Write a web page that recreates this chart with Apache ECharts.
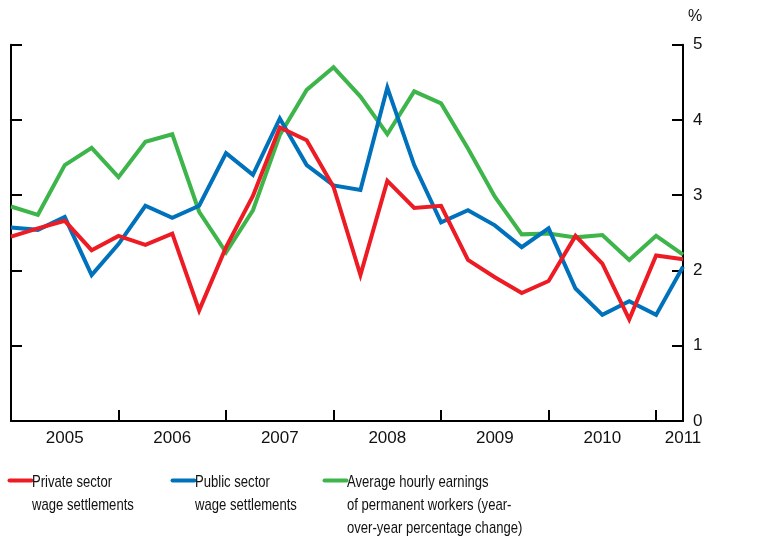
<!DOCTYPE html>
<html>
<head>
<meta charset="utf-8">
<script src="https://cdn.jsdelivr.net/npm/echarts@6/dist/echarts.min.js"></script>
<style>
html,body{margin:0;padding:0;background:#fff;}
#chart{width:764px;height:541px;}
</style>
</head>
<body>
<div id="chart"></div>
<script>
// Quarterly categories 2005Q1 .. 2011Q2
const categories = [
  '2005 Q1','2005 Q2','2005 Q3','2005 Q4',
  '2006 Q1','2006 Q2','2006 Q3','2006 Q4',
  '2007 Q1','2007 Q2','2007 Q3','2007 Q4',
  '2008 Q1','2008 Q2','2008 Q3','2008 Q4',
  '2009 Q1','2009 Q2','2009 Q3','2009 Q4',
  '2010 Q1','2010 Q2','2010 Q3','2010 Q4',
  '2011 Q1','2011 Q2'
];
const privateSector = [2.45,2.56,2.66,2.27,2.46,2.34,2.49,1.47,2.31,2.99,3.90,3.73,3.11,1.94,3.19,2.83,2.86,2.14,1.91,1.70,1.86,2.46,2.09,1.35,2.20,2.15];
const publicSector  = [2.57,2.54,2.71,1.94,2.35,2.86,2.70,2.86,3.56,3.27,4.02,3.40,3.13,3.07,4.43,3.40,2.64,2.80,2.60,2.31,2.56,1.76,1.41,1.59,1.41,2.05];
const hourlyEarnings = [2.85,2.74,3.40,3.63,3.24,3.71,3.81,2.78,2.24,2.80,3.80,4.40,4.70,4.31,3.81,4.38,4.22,3.62,2.98,2.48,2.49,2.44,2.47,2.14,2.46,2.21];
const yTicks = [0,1,2,3,4,5];
const seriesNames = ['Private sector\nwage settlements','Public sector\nwage settlements','Average hourly earnings\nof permanent workers (year-\nover-year percentage change)'];
const seriesColors = ['#ED1C24','#0072BC','#3DB54A'];
const seriesData = [privateSector, publicSector, hourlyEarnings];

const FONT = '"Liberation Sans", Arial, Helvetica, sans-serif';
const chart = echarts.init(document.getElementById('chart'));

const axisLine = {show:true, lineStyle:{color:'#000', width:2}};
const axisTick = {show:true, inside:true, length:11, lineStyle:{color:'#000', width:2}};

const legendX = [7, 170, 322];
const graphic = [];
seriesNames.forEach((name, i) => {
  graphic.push({
    type:'line', left: legendX[i], top: 478,
    shape:{x1:0,y1:0,x2:22,y2:0},
    style:{stroke: seriesColors[i], lineWidth:4, lineCap:'round'}
  });
  graphic.push({
    type:'text', x: legendX[i] + 25, y: 471, scaleX: 0.77,
    style:{text: name, font: '17px ' + FONT, fill:'#111', lineHeight:23}
  });
});

chart.setOption({
  animation:false,
  backgroundColor:'#fff',
  grid:{left:11, right:81, top:44.7, bottom:120, containLabel:false},
  xAxis:{
    type:'category', data: categories, boundaryGap:false,
    axisLine: axisLine,
    axisTick: Object.assign({}, axisTick, {interval: (idx) => idx % 4 === 0 && idx > 0}),
    axisLabel:{
      interval: (idx) => (idx % 4 === 2 && idx <= 22) || idx === 25,
      formatter: (v) => v.slice(0,4),
      color:'#111', fontSize:17, fontFamily: FONT, margin:9
    },
    splitLine:{show:false}
  },
  yAxis:[
    {type:'value', position:'left', min:0, max:5, interval:1,
     axisLine: axisLine, axisTick: axisTick, axisLabel:{show:false}, splitLine:{show:false}},
    {type:'value', position:'right', min:0, max:5, interval:1,
     name:'%', nameLocation:'end', nameGap:20,
     nameTextStyle:{color:'#111', fontSize:16, fontFamily: FONT, align:'left', padding:[0,0,0,5]},
     axisLine: axisLine, axisTick: axisTick,
     axisLabel:{color:'#111', fontSize:17, fontFamily: FONT, margin:10,
       formatter:(v)=> yTicks.includes(v) ? String(v) : ''},
     splitLine:{show:false}}
  ],
  series: seriesData.map((d, i) => ({
    type:'line', name: seriesNames[i], data: d, yAxisIndex:1,
    symbol:'none', lineStyle:{color: seriesColors[i], width:4, join:'miter'},
    itemStyle:{color: seriesColors[i]}, z: [3,2,1][i]
  })),
  graphic: graphic
});
</script>
</body>
</html>
